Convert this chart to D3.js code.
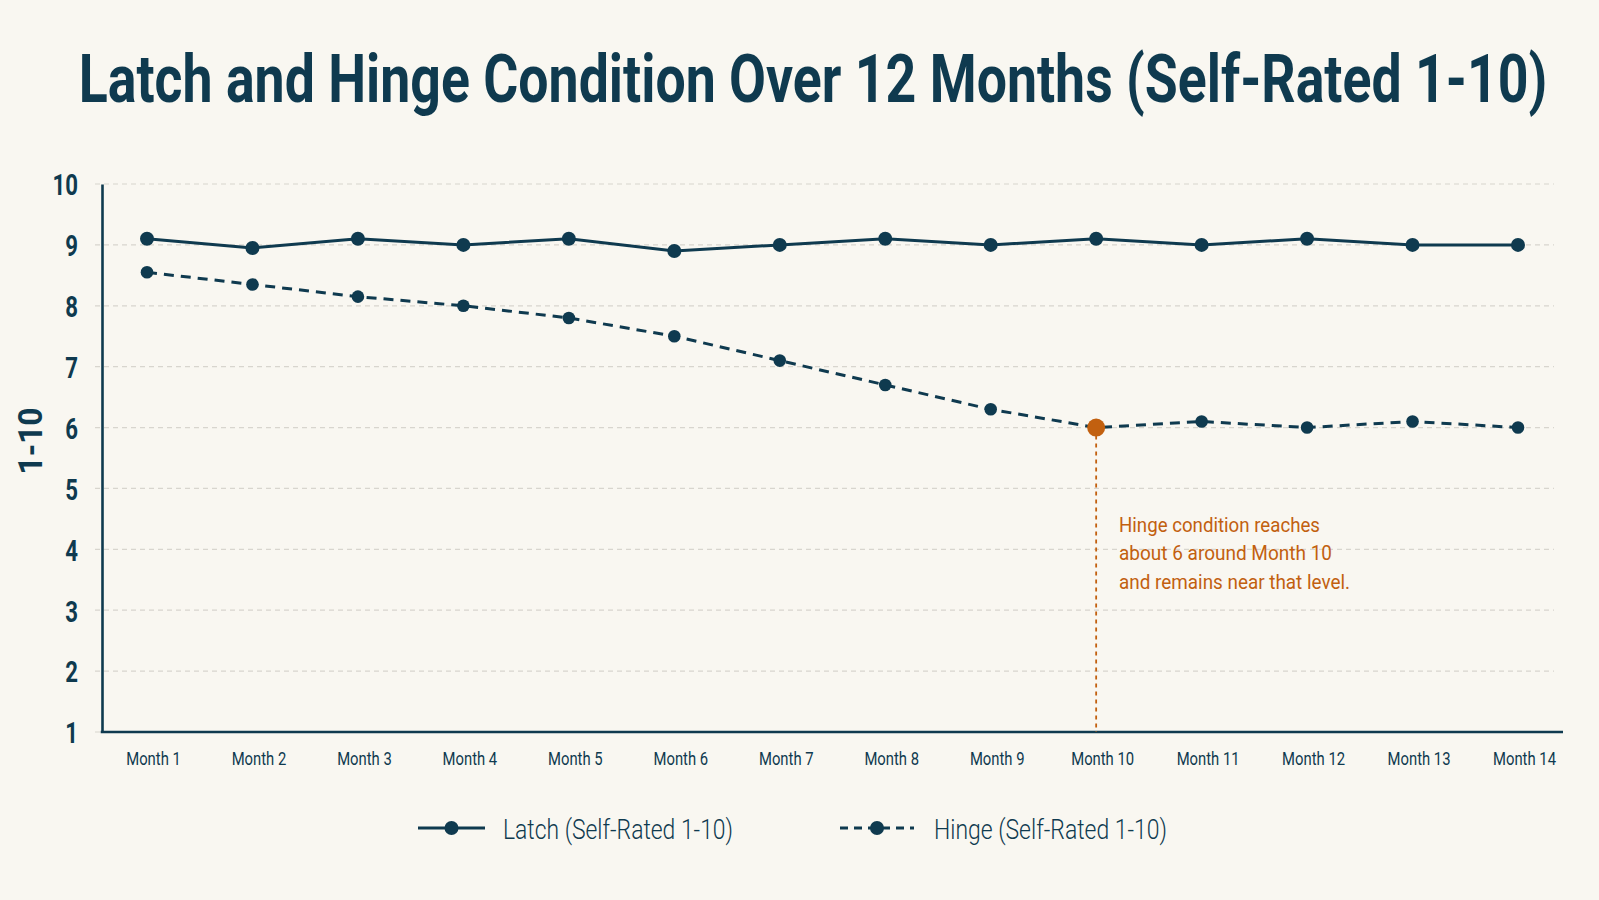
<!DOCTYPE html>
<html>
<head>
<meta charset="utf-8">
<script src="https://cdn.jsdelivr.net/npm/d3@7"></script>
<style>
  html, body { margin: 0; padding: 0; background: #f9f7f1; }
  svg { display: block; }
  svg text { font-family: Roboto, "Noto Sans", sans-serif; }
</style>
</head>
<body>
<div id="chart"></div>
<script>
// Latch vs hinge condition, self-rated 1-10, month by month

const months = ["Month 1", "Month 2", "Month 3", "Month 4", "Month 5", "Month 6", "Month 7",
                "Month 8", "Month 9", "Month 10", "Month 11", "Month 12", "Month 13", "Month 14"];
const latchValues = [9.1, 8.95, 9.1, 9.0, 9.1, 8.9, 9.0, 9.1, 9.0, 9.1, 9.0, 9.1, 9.0, 9.0];
const hingeValues = [8.55, 8.35, 8.15, 8.0, 7.8, 7.5, 7.1, 6.7, 6.3, 6.0, 6.1, 6.0, 6.1, 6.0];
const yTicks = [1, 2, 3, 4, 5, 6, 7, 8, 9, 10];
const seriesNames = ["Latch (Self-Rated 1-10)", "Hinge (Self-Rated 1-10)"];
const highlightMonth = "Month 10";
const annotationLines = ["Hinge condition reaches", "about 6 around Month 10", "and remains near that level."];

const W = 1599, H = 900;
const margin = { top: 184, right: 36, bottom: 168, left: 102 };
const navy = "#0f3a4f";
const orange = "#c2600f";
const gridColor = "#d8d5ce";

// squeeze text horizontally, the reference uses a condensed face
function condense(sel, k) {
    sel.each(function () {
        const w = this.getComputedTextLength();
        d3.select(this).attr("textLength", w * k).attr("lengthAdjust", "spacingAndGlyphs");
    });
}
function fitTo(sel, w) {
    sel.attr("textLength", w).attr("lengthAdjust", "spacingAndGlyphs");
}

const svg = d3.select("#chart")
    .append("svg")
    .attr("width", W)
    .attr("height", H);

svg.append("rect").attr("width", W).attr("height", H).attr("fill", "#f9f7f1");

// title, scaled in x so it spans the same width as the reference
const titleG = svg.append("g");
const title = titleG.append("text")
    .attr("text-anchor", "middle")
    .attr("font-size", 66)
    .attr("font-weight", "bold")
    .attr("fill", navy)
    .text("Latch and Hinge Condition Over 12 Months (Self-Rated 1-10)");
const titleScale = 1469 / title.node().getComputedTextLength();
titleG.attr("transform", `translate(813,102) scale(${titleScale},1)`);

const x = d3.scalePoint()
    .domain(months)
    .range([147, 1518]);

const y = d3.scaleLinear()
    .domain([1, 10])
    .range([H - margin.bottom, margin.top]);

// grid lines
svg.append("g")
    .selectAll("line")
    .data(yTicks)
    .join("line")
    .attr("x1", 95)
    .attr("x2", 1554)
    .attr("y1", d => y(d))
    .attr("y2", d => y(d))
    .attr("stroke", gridColor)
    .attr("stroke-width", 1.2)
    .attr("stroke-dasharray", "5,4");

// y axis
const yAxis = svg.append("g")
    .attr("transform", `translate(${margin.left},0)`)
    .call(d3.axisLeft(y).tickValues(yTicks).tickSize(0).tickPadding(24));
yAxis.attr("font-family", null);
yAxis.select(".domain").attr("stroke", navy).attr("stroke-width", 2.6);
yAxis.selectAll("text")
    .attr("font-size", 30)
    .attr("font-weight", "bold")
    .attr("dy", "0.36em")
    .attr("fill", navy)
    .call(condense, 0.74);

// x axis
svg.append("line")
    .attr("x1", margin.left - 1.3)
    .attr("x2", 1563)
    .attr("y1", y(1))
    .attr("y2", y(1))
    .attr("stroke", navy)
    .attr("stroke-width", 2.6);

const xAxis = svg.append("g")
    .attr("transform", `translate(0,${y(1)})`)
    .call(d3.axisBottom(x).tickSize(0));
xAxis.attr("font-family", null);
xAxis.select(".domain").remove();
xAxis.selectAll("text")
    .attr("y", 33)
    .attr("dy", 0)
    .attr("dx", 6)
    .attr("font-size", 19)
    .attr("fill", navy)
    .call(condense, 0.78);

// y axis title
svg.append("text")
    .attr("transform", "translate(42,441) rotate(-90)")
    .attr("text-anchor", "middle")
    .attr("font-size", 34)
    .attr("font-weight", "bold")
    .attr("fill", navy)
    .text("1-10")
    .call(fitTo, 67);

// annotation guide line
const hx = x(highlightMonth);
const hv = hingeValues[months.indexOf(highlightMonth)];
svg.append("line")
    .attr("x1", hx)
    .attr("x2", hx)
    .attr("y1", y(hv))
    .attr("y2", y(1))
    .attr("stroke", orange)
    .attr("stroke-width", 1.8)
    .attr("stroke-dasharray", "4,4");

const line = d3.line()
    .x((d, i) => x(months[i]))
    .y(d => y(d));

// latch series
svg.append("path")
    .datum(latchValues)
    .attr("d", line)
    .attr("fill", "none")
    .attr("stroke", navy)
    .attr("stroke-width", 3);
svg.append("g")
    .selectAll("circle")
    .data(latchValues)
    .join("circle")
    .attr("cx", (d, i) => x(months[i]))
    .attr("cy", d => y(d))
    .attr("r", 7)
    .attr("fill", navy);

// hinge series
svg.append("path")
    .datum(hingeValues)
    .attr("d", line)
    .attr("fill", "none")
    .attr("stroke", navy)
    .attr("stroke-width", 3)
    .attr("stroke-dasharray", "10,7");
svg.append("g")
    .selectAll("circle")
    .data(hingeValues)
    .join("circle")
    .attr("cx", (d, i) => x(months[i]))
    .attr("cy", d => y(d))
    .attr("r", 6.3)
    .attr("fill", navy);

// highlight point
svg.append("circle")
    .attr("cx", hx)
    .attr("cy", y(hv))
    .attr("r", 9)
    .attr("fill", orange);

// annotation text
const annoWidths = [201, 213, 231];
svg.append("g")
    .selectAll("text")
    .data(annotationLines)
    .join("text")
    .attr("x", 1119)
    .attr("y", (d, i) => 532 + i * 28.3)
    .attr("font-size", 21)
    .attr("fill", orange)
    .text(d => d)
    .each(function (d, i) { d3.select(this).call(fitTo, annoWidths[i]); });

// legend
const legend = svg.append("g").attr("transform", "translate(0,828)");
const legendItems = [
    { name: seriesNames[0], x0: 418, x1: 485, dash: null, tx: 503, w: 230 },
    { name: seriesNames[1], x0: 840, x1: 914, dash: "8,6", tx: 934, w: 233 }
];
legendItems.forEach(it => {
    legend.append("line")
        .attr("x1", it.x0)
        .attr("x2", it.x1)
        .attr("stroke", navy)
        .attr("stroke-width", 3)
        .attr("stroke-dasharray", it.dash);
    legend.append("circle")
        .attr("cx", (it.x0 + it.x1) / 2)
        .attr("r", 7)
        .attr("fill", navy);
    legend.append("text")
        .attr("x", it.tx)
        .attr("y", 11)
        .attr("font-size", 27)
        .attr("font-weight", 300)
        .attr("fill", navy)
        .text(it.name)
        .call(fitTo, it.w);
});
</script>
</body>
</html>
